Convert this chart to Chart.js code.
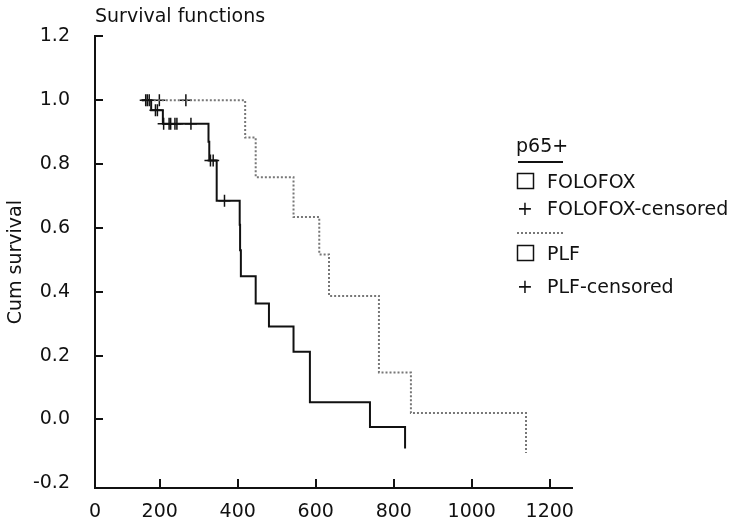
<!DOCTYPE html>
<html>
<head>
<meta charset="utf-8">
<script src="https://cdn.jsdelivr.net/npm/chart.js@4"></script>
<style>
  html, body { margin: 0; padding: 0; background: #fff; }
  #wrap { width: 741px; height: 531px; }
</style>
</head>
<body>
<div id="wrap"><canvas id="km"></canvas></div>
<script>
// Kaplan-Meier steps (time, survival after the drop)
const folofoxTimes = [154, 178, 208, 325, 327, 346, 405, 406, 408, 446, 480, 543, 585, 739, 829];
const folofoxSurv = [1.0, 0.969, 0.926, 0.87, 0.811, 0.685, 0.61, 0.53, 0.449, 0.363, 0.291, 0.212, 0.054, -0.024, -0.091];
const plfTimes = [154, 419, 446, 543, 609, 634, 762, 844, 1139];
const plfSurv = [1.0, 0.883, 0.759, 0.634, 0.517, 0.387, 0.147, 0.02, -0.105];

// censored observations (time only, y comes from the step curve)
const folofoxCensored = [164, 168, 173, 189, 194, 210, 224, 228, 239, 244, 280, 330, 337, 366];
const plfCensored = [199, 267];

const xTicks = [200, 400, 600, 800, 1000, 1200];
const yTicks = [-0.2, 0, 0.2, 0.4, 0.6, 0.8, 1.0, 1.2];

const FONT = 'DejaVu Sans';

function stepAt(times, surv, t) {
  let v = surv[0];
  for (let i = 0; i < times.length; i++) {
    if (times[i] <= t) v = surv[i];
  }
  return v;
}

const toPoints = (xs, ys) => xs.map((x, i) => ({ x: x, y: ys[i] }));
const censorPoints = (cs, times, surv) => cs.map(t => ({ x: t, y: stepAt(times, surv, t) }));

const data = {
  datasets: [
    {
      label: 'FOLOFOX',
      data: toPoints(folofoxTimes, folofoxSurv),
      stepped: 'before',
      borderColor: '#111',
      borderWidth: 2,
      pointRadius: 0,
      fill: false
    },
    {
      label: 'PLF',
      data: toPoints(plfTimes, plfSurv),
      stepped: 'before',
      borderColor: '#777',
      borderWidth: 2,
      borderDash: [2, 2],
      pointRadius: 0,
      fill: false
    },
    {
      label: 'FOLOFOX-censored',
      data: censorPoints(folofoxCensored, folofoxTimes, folofoxSurv),
      showLine: false,
      pointStyle: 'cross',
      pointRadius: 6,
      pointBorderWidth: 1.5,
      borderColor: '#111'
    },
    {
      label: 'PLF-censored',
      data: censorPoints(plfCensored, plfTimes, plfSurv),
      showLine: false,
      pointStyle: 'cross',
      pointRadius: 6,
      pointBorderWidth: 1.5,
      borderColor: '#111'
    }
  ]
};

// inward tick marks like the SPSS output
const innerTicks = {
  id: 'innerTicks',
  afterDraw(chart) {
    const c = chart.ctx;
    const area = chart.chartArea;
    const xs = chart.scales.x, ys = chart.scales.y;
    c.save();
    c.strokeStyle = '#111';
    c.lineWidth = 2;
    c.beginPath();
    xTicks.forEach(v => {
      const px = Math.round(xs.getPixelForValue(v));
      c.moveTo(px, area.bottom);
      c.lineTo(px, area.bottom - 9);
    });
    yTicks.filter(v => v > -0.2).forEach(v => {
      const py = Math.round(ys.getPixelForValue(v));
      c.moveTo(area.left, py);
      c.lineTo(area.left + 8, py);
    });
    c.stroke();
    c.restore();
  }
};

// legend block on the right
const sideLegend = {
  id: 'sideLegend',
  afterDraw(chart) {
    const c = chart.ctx;
    const lx = 517, tx = 547;
    c.save();
    c.fillStyle = '#111';
    c.font = '19px "' + FONT + '"';
    c.textBaseline = 'alphabetic';
    c.textAlign = 'left';
    c.fillText('p65+', 516, 152);

    c.strokeStyle = '#111';
    c.lineWidth = 2;
    c.beginPath();
    c.moveTo(518, 162);
    c.lineTo(563, 162);
    c.stroke();

    c.lineWidth = 1.5;
    c.strokeRect(lx + 0.5, 173.5, 16, 15);
    c.fillText('FOLOFOX', tx, 188);
    c.fillText('+', lx, 215);
    c.fillText('FOLOFOX-censored', tx, 215);

    c.strokeStyle = '#777';
    c.lineWidth = 2;
    c.setLineDash([2, 2]);
    c.beginPath();
    c.moveTo(517, 233);
    c.lineTo(565, 233);
    c.stroke();
    c.setLineDash([]);

    c.strokeStyle = '#111';
    c.lineWidth = 1.5;
    c.strokeRect(lx + 0.5, 245.5, 16, 15);
    c.fillText('PLF', tx, 260);
    c.fillText('+', lx, 293);
    c.fillText('PLF-censored', tx, 293);
    c.restore();
  }
};

const config = {
  type: 'line',
  data: data,
  options: {
    responsive: true,
    maintainAspectRatio: false,
    animation: false,
    layout: { padding: { left: 0, right: 169, top: 0, bottom: 0 } },
    scales: {
      x: {
        type: 'linear',
        min: 34,
        max: 1257,
        afterBuildTicks: s => { s.ticks = [34].concat(xTicks).map(v => ({ value: v })); },
        afterFit: s => { s.height = 43; },
        grid: { display: false, drawTicks: false },
        border: { display: true, color: '#111', width: 2 },
        ticks: {
          color: '#111',
          padding: 13,
          maxRotation: 0,
          font: { family: FONT, size: 19 },
          callback: v => (v < 100 ? '0' : String(v))
        }
      },
      y: {
        type: 'linear',
        min: -0.2147,
        max: 1.2,
        afterBuildTicks: s => { s.ticks = yTicks.map(v => ({ value: v })); },
        afterFit: s => { s.width = 95; },
        grid: { display: false, drawTicks: false },
        border: { display: true, color: '#111', width: 2 },
        ticks: {
          color: '#111',
          padding: 25,
          font: { family: FONT, size: 19 },
          callback: v => v.toFixed(1)
        },
        title: {
          display: true,
          text: 'Cum survival',
          color: '#111',
          padding: { top: 5, bottom: 0 },
          font: { family: FONT, size: 19 }
        }
      }
    },
    plugins: {
      legend: { display: false },
      tooltip: { enabled: false },
      title: {
        display: true,
        text: 'Survival functions',
        align: 'start',
        fullSize: false,
        color: '#111',
        padding: { top: 5, bottom: 8 },
        font: { family: FONT, size: 19, weight: 'normal' }
      }
    }
  },
  plugins: [innerTicks, sideLegend]
};

const ctx = document.getElementById('km').getContext('2d');
new Chart(ctx, config);
</script>
</body>
</html>
